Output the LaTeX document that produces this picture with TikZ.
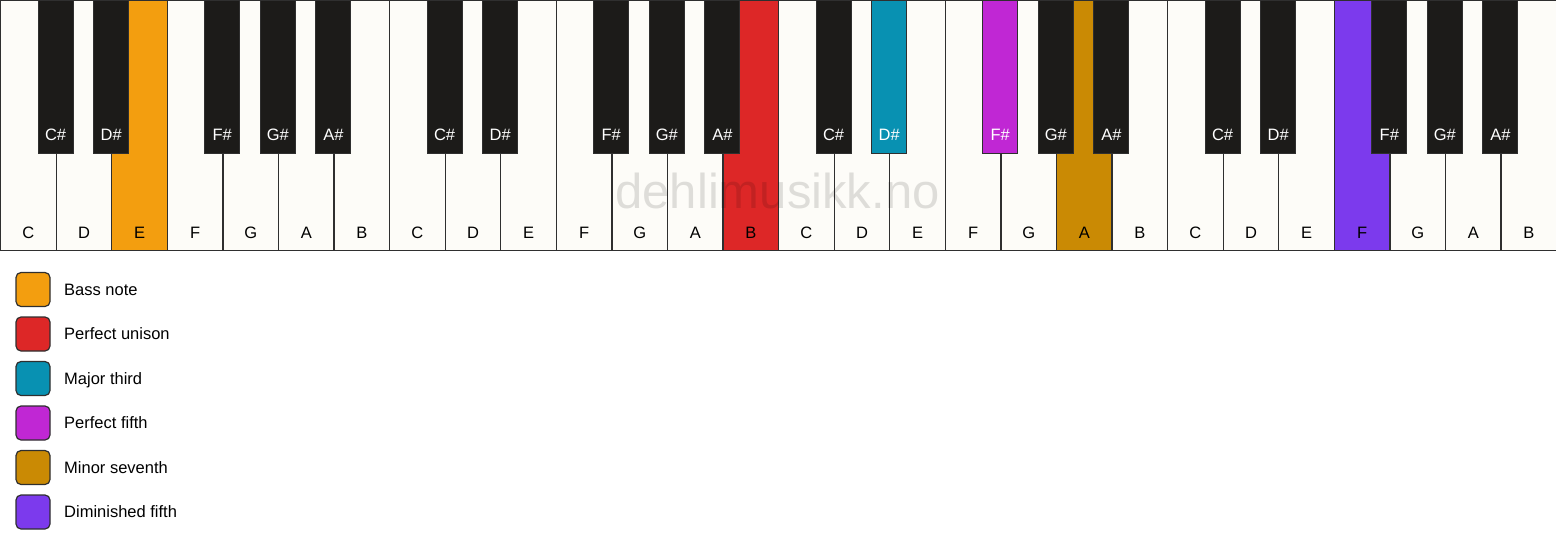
\documentclass[tikz,border=0pt]{standalone}
\usepackage{fontspec}
\setmainfont{Liberation Sans}
\usetikzlibrary{positioning}

\definecolor{keywhite}{HTML}{FDFCF8}
\definecolor{keyblack}{HTML}{1C1B19}
\definecolor{keyline}{HTML}{2F2F2F}
\definecolor{bassnote}{HTML}{F39E0F}
\definecolor{unison}{HTML}{DD2727}
\definecolor{majorthird}{HTML}{0891B2}
\definecolor{perfectfifth}{HTML}{C027D4}
\definecolor{minorseventh}{HTML}{CA8A04}
\definecolor{dimfifth}{HTML}{7C3AED}

\begin{document}
\begin{tikzpicture}[
        x=1pt, y=-1pt,
        whitekey/.style={draw=keyline, fill=keywhite, line width=1.3pt, rectangle, anchor=north west,
                         minimum width=55.5714pt, minimum height=250pt, inner sep=0pt},
        blackkey/.style={draw=keyline, fill=keyblack, line width=1pt, rectangle, anchor=north,
                         minimum width=35pt, minimum height=153pt, inner sep=0pt},
        keylabel/.style={font=\fontsize{16.5}{19}\selectfont, inner sep=0pt, anchor=base},
        swatch/.style={draw=keyline, line width=1.2pt, rectangle, rounded corners=5pt, minimum size=34pt, inner sep=0pt},
        legendtext/.style={font=\fontsize{16.5}{19}\selectfont, inner sep=0pt, text height=11.8pt, text depth=0pt},
        % highlighted keys
        w2/.style={fill=bassnote},
        w13/.style={fill=unison},
        w19/.style={fill=minorseventh},
        w24/.style={fill=dimfifth},
        b11/.style={fill=majorthird},
        b12/.style={fill=perfectfifth}
    ]

    \useasboundingbox (0,0) rectangle (1556,550);

    % White keys, four octaves
    \foreach \o in {0,...,3} {
        \foreach \n [count=\k from 0, evaluate=\k as \i using int(7*\o+\k)] in {C,D,E,F,G,A,B} {
            \node[whitekey, w\i/.try] (w\i) at ({\i*55.5714},0) {};
            \node[keylabel] (wl\i) at ([yshift=13pt]w\i.south) {\n};
        }
    }

    % Black keys, centred on the key boundaries
    \foreach \o in {0,...,3} {
        \foreach \n/\b [count=\j from 0, evaluate=\j as \i using int(5*\o+\j)] in {C/1,D/2,F/4,G/5,A/6} {
            \node[blackkey, b\i/.try] (b\i) at ({(7*\o+\b)*55.5714},0) {};
            \node[keylabel, text=white] (bl\i) at ([yshift=14pt]b\i.south) {\n\#};
        }
    }

    % Watermark
    \node[font=\fontsize{49}{50}\selectfont, text=black, text opacity=0.12, inner sep=0pt, anchor=base]
        (mark) at (777.5,208) {dehlimusikk.no};

    % Legend
    \node[swatch, fill=bassnote] (lg1) at (33,289.5) {};
    \node[swatch, fill=unison, below=9.3pt of lg1] (lg2) {};
    \node[swatch, fill=majorthird, below=9.3pt of lg2] (lg3) {};
    \node[swatch, fill=perfectfifth, below=9.3pt of lg3] (lg4) {};
    \node[swatch, fill=minorseventh, below=9.3pt of lg4] (lg5) {};
    \node[swatch, fill=dimfifth, below=9.3pt of lg5] (lg6) {};

    \foreach \s/\t in {1/Bass note, 2/Perfect unison, 3/Major third, 4/Perfect fifth, 5/Minor seventh, 6/Diminished fifth}
        \node[legendtext, right=13.4pt of lg\s] (lt\s) {\t};

\end{tikzpicture}
\end{document}
